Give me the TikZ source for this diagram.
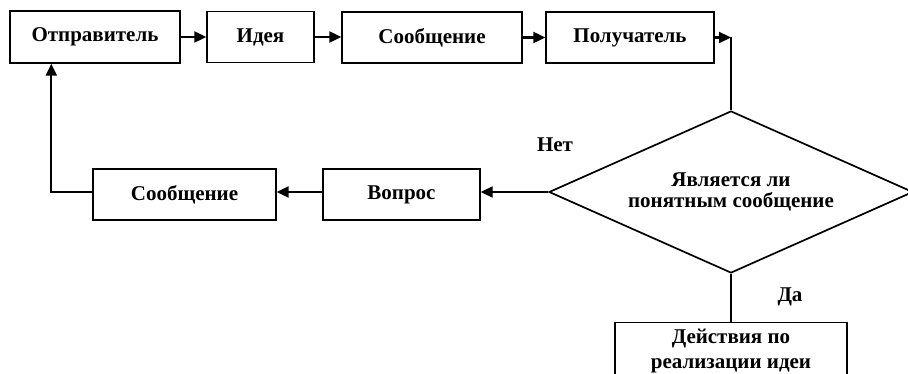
\documentclass[tikz,border=0pt]{standalone}
\usepackage{fontspec}
\setmainfont{Liberation Serif}
\usetikzlibrary{arrows.meta,shapes.geometric,calc}
\begin{document}
\begin{tikzpicture}[x=1pt,y=-1pt,
  txt/.style={font=\fontsize{21}{25}\selectfont\bfseries},
  box/.style={draw,line width=1.4pt,inner sep=0pt,txt},
  conn/.style={line width=2.2pt},
  arr/.style={conn,-{Triangle[length=12pt,width=11pt]}}]
\clip (0,0) rectangle (908,374);
\fill[white] (0,0) rectangle (908,374);
% top row
\node[box,minimum width=170pt,minimum height=52pt] (s1) at (95,37) {Отправитель};
\node[box,minimum width=107pt,minimum height=51pt] (s2) at (260.5,37) {Идея};
\node[box,minimum width=180pt,minimum height=51pt] (s3) at (432,37.5) {Сообщение};
\node[box,minimum width=168pt,minimum height=51pt] (s4) at (630,37.5) {Получатель};
% decision
\node[draw,diamond,line width=1.7pt,aspect=2.2,minimum width=364pt,minimum height=162pt,
      inner sep=0pt,align=center,font=\fontsize{21}{21}\selectfont\bfseries] (d) at (731,192)
      {Является ли\\понятным сообщение};
% bottom row
\node[box,minimum width=157pt,minimum height=51pt] (q) at (401.5,194.5) {Вопрос};
\node[box,minimum width=183pt,minimum height=51pt] (m) at (184.5,194.5) {Сообщение};
\node[box,minimum width=232pt,minimum height=56pt,anchor=north,align=center] (act) at (731,322)
      {Действия по\\реализации идеи};
% labels
\node[txt] (no) at (555,145) {Нет};
\node[txt] (yes) at (790,297) {Да};
% connectors
\draw[arr] (s1.east) -- (s2.west |- s1.east);
\draw[arr] (s2.east) -- (s3.west |- s2.east);
\draw[arr] (s3.east) -- (s4.west);
\coordinate (c) at (d.north |- s4.east);
\draw[arr] (s4.east) -- (c);
\draw[conn] (c) -- (d.north);
\draw[arr] (d.west) -- (d.west -| q.east);
\draw[arr] (q.west |- d.west) -- (m.east |- d.west);
\draw[arr] (m.west |- d.west) -| ([xshift=42pt]s1.south west);
\draw[conn] (d.south) -- (act.north);
\end{tikzpicture}
\end{document}
